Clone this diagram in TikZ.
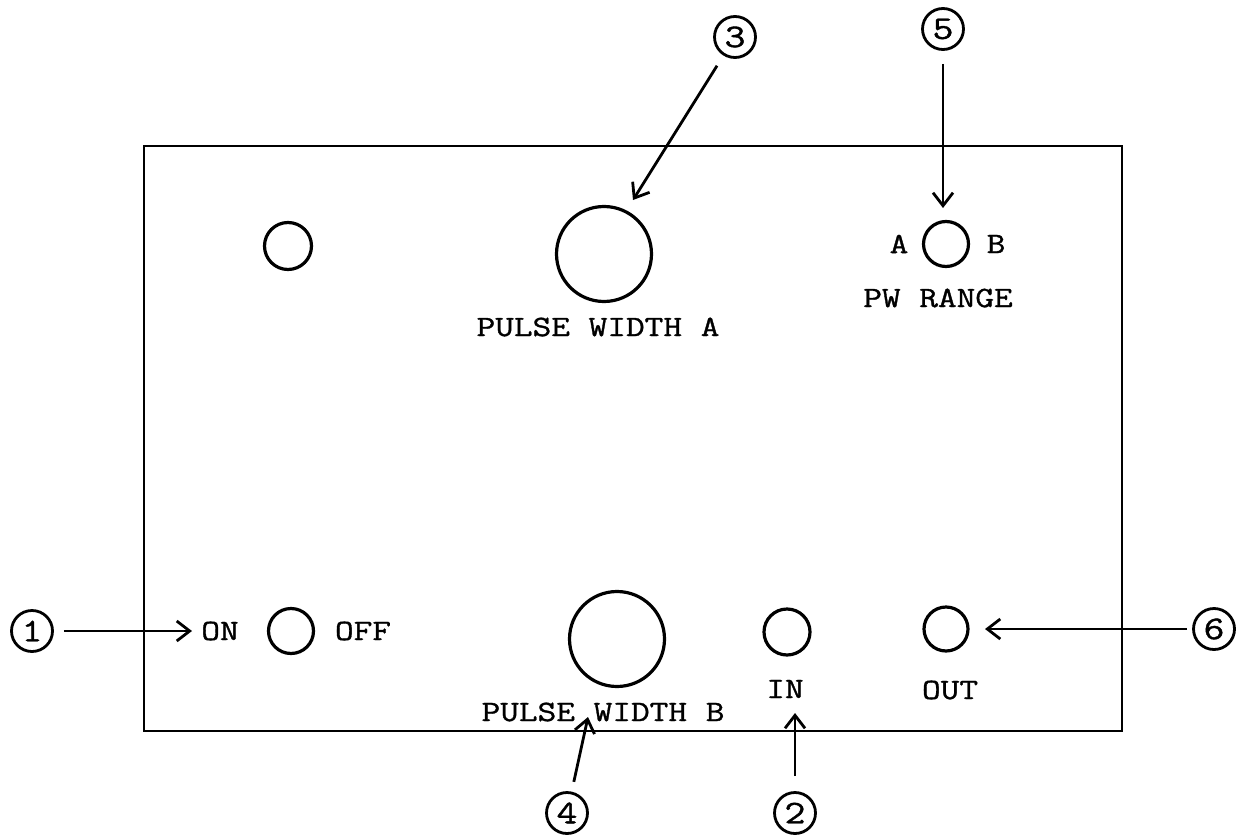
\documentclass[tikz,border=0pt]{standalone}
\usepackage{fontspec}
\setmonofont{Latin Modern Mono}[FakeStretch=1.23,FakeBold=1.2]
\usetikzlibrary{arrows.meta}
\begin{document}
\begin{tikzpicture}[x=1pt,y=-1pt,
  knob/.style={draw,circle,line width=3.2pt,inner sep=0pt},
  num/.style={draw,circle,line width=2.8pt,minimum size=41pt,inner sep=0pt,font=\fontsize{33}{33}\selectfont\ttfamily},
  lbl/.style={font=\fontsize{29.5}{30}\selectfont\ttfamily,inner sep=0pt},
  arr/.style={line width=2.8pt,-{Straight Barb[length=13pt,width=20pt,line width=2.8pt]}}]
\path[use as bounding box] (0,0) rectangle (1246,837);
% panel
\node[draw,line width=2.8pt,minimum width=978pt,minimum height=585pt,inner sep=0pt] (panel) at (633,438.5) {};
% knobs
\node[knob,minimum size=47pt] (k0) at (288,246) {};
\node[knob,minimum size=95pt] (pwa) at (604,254) {};
\node[knob,minimum size=45pt] (pwr) at (946,244) {};
\node[knob,minimum size=45pt] (onoff) at (291,631) {};
\node[knob,minimum size=95pt] (pwb) at (617,639) {};
\node[knob,minimum size=46pt] (in) at (787,632) {};
\node[knob,minimum size=44pt] (out) at (946,629) {};
% labels
\node[lbl] (la) at (899,244) {A};
\node[lbl] (lb) at (996,244) {B};
\node[lbl] (lpwr) at (938,298) {PW RANGE};
\node[lbl] (lpwa) at (598,327) {PULSE WIDTH A};
\node[lbl] (lpwb) at (603,712) {PULSE WIDTH B};
\node[lbl] (lon) at (220,631) {ON};
\node[lbl] (loff) at (363,631) {OFF};
\node[lbl] (lin) at (785,689) {IN};
\node[lbl] (lout) at (950,690) {OUT};
% numbers
\node[num] (n1) at (32,631) {1};
\node[num] (n2) at (795,813) {2};
\node[num] (n3) at (735,37) {3};
\node[num] (n4) at (567,813) {4};
\node[num] (n5) at (943,29) {5};
\node[num] (n6) at (1214,629) {6};
% arrow tips
\coordinate (t1) at (192,631);
\coordinate (t2) at (795,713);
\coordinate (t3) at (633,200);
\coordinate (t4) at (588,717);
\coordinate (t5) at (943,208);
\coordinate (t6) at (985,629);
\draw[arr,shorten <=10pt] (n1) -- (t1);
\draw[arr,shorten <=15pt] (n2) -- (t2);
\draw[arr,shorten <=12pt] (n3) -- (t3);
\draw[arr,shorten <=10pt] (n4) -- (t4);
\draw[arr,shorten <=13pt] (n5) -- (t5);
\draw[arr,shorten <=5pt] (n6) -- (t6);
\end{tikzpicture}
\end{document}
